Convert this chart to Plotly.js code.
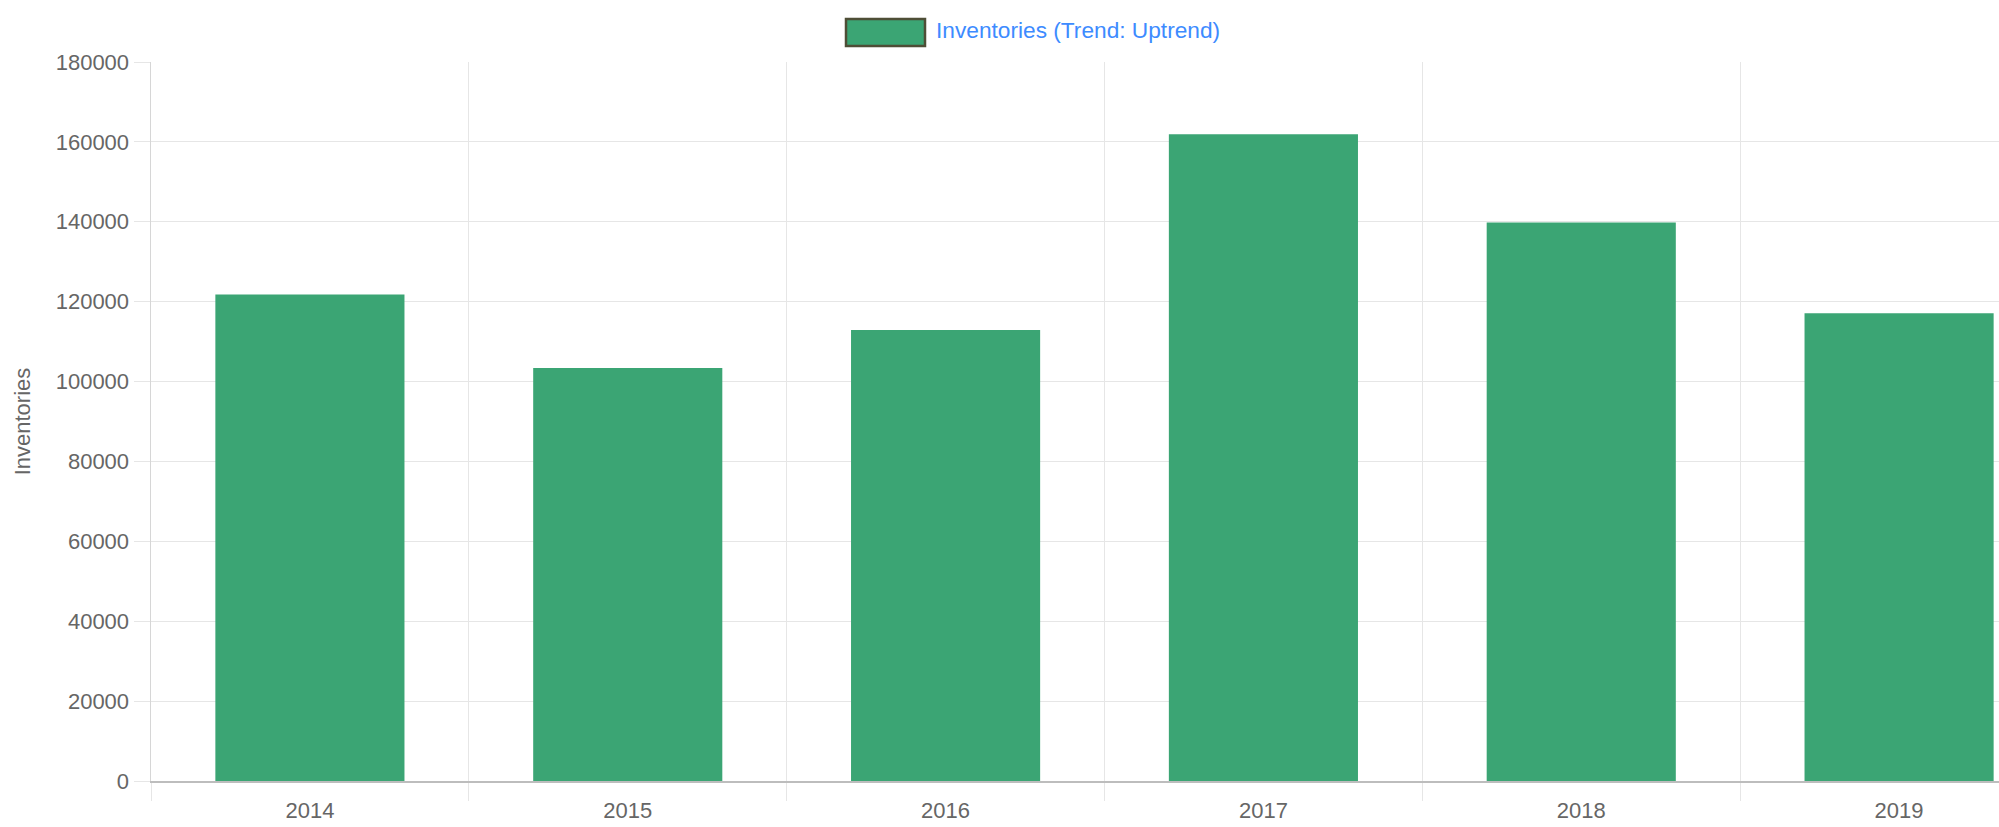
<!DOCTYPE html>
<html>
<head>
<meta charset="utf-8">
<script src="https://cdn.plot.ly/plotly-3.0.1.min.js"></script>
<style>
  html, body { margin: 0; padding: 0; overflow: hidden; background: #fff; }
  #chart { width: 2064px; height: 827px; }
</style>
</head>
<body>
<div id="chart"></div>
<script>
// ---- data ----
const years = ["2014", "2015", "2016", "2017", "2018", "2019"];
const inventories = [121800, 103400, 112900, 161900, 139800, 117100];
const seriesName = "Inventories (Trend: Uptrend)";
const yTitle = "Inventories";

// ---- layout constants (pixels) ----
const W = 2064, H = 827;
const mL = 151, mR = 6, mT = 62, mB = 46;
const plotW = W - mL - mR, plotH = H - mT - mB;
const px2x = p => (p - mL) / plotW;
const px2y = p => (H - mB - p) / plotH;

const barColor = "#3ba574";
const gridColor = "#e6e6e6";
const textColor = "#666666";
const fontFam = "Liberation Sans, Arial, sans-serif";

const trace = {
  type: "bar",
  x: years,
  y: inventories,
  name: seriesName,
  marker: { color: barColor, line: { width: 0 } },
  hoverinfo: "x+y",
  showlegend: false
};

const layout = {
  width: W,
  height: H,
  margin: { l: mL, r: mR, t: mT, b: mB, pad: 0 },
  paper_bgcolor: "#ffffff",
  plot_bgcolor: "#ffffff",
  bargap: 0.405,
  font: { family: fontFam, size: 22, color: textColor },
  xaxis: {
    type: "category",
    tickson: "boundaries",
    ticks: "outside",
    ticklen: 18,
    tickwidth: 1,
    tickcolor: gridColor,
    showgrid: true,
    gridcolor: gridColor,
    gridwidth: 1,
    showline: true,
    linecolor: "#bdbdbd",
    linewidth: 1.5,
    zeroline: false,
    ticklabelstandoff: 9,
    tickfont: { family: fontFam, size: 22, color: textColor }
  },
  yaxis: {
    range: [0, 180000],
    dtick: 20000,
    tick0: 0,
    ticks: "outside",
    ticklen: 16,
    tickwidth: 1,
    tickcolor: gridColor,
    showgrid: true,
    gridcolor: gridColor,
    gridwidth: 1,
    showline: true,
    linecolor: "#d6d6d6",
    linewidth: 1.5,
    zeroline: false,
    tickformat: "d",
    tickfont: { family: fontFam, size: 22, color: textColor },
    title: { text: yTitle, font: { family: fontFam, size: 22, color: textColor }, standoff: 19 }
  },
  shapes: [
    {
      type: "rect",
      xref: "paper", yref: "paper",
      x0: px2x(846), x1: px2x(925),
      y0: px2y(46), y1: px2y(19),
      fillcolor: barColor,
      line: { color: "#4e4e36", width: 2.5 },
      layer: "above"
    }
  ],
  annotations: [
    {
      xref: "paper", yref: "paper",
      x: px2x(934), y: px2y(30),
      xanchor: "left", yanchor: "middle",
      showarrow: false,
      text: seriesName,
      font: { family: fontFam, size: 22.7, color: "#3d8bff" }
    }
  ]
};

Plotly.newPlot("chart", [trace], layout, { displayModeBar: false, staticPlot: true });
</script>
</body>
</html>
